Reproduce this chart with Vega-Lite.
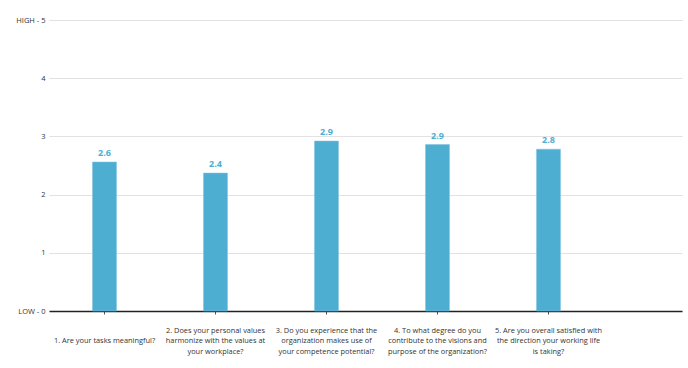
{
  "$schema": "https://vega.github.io/schema/vega-lite/v6.json",
  "autosize": {"type": "none"},
  "width": 633,
  "height": 291,
  "padding": {"left": 49, "top": 20, "right": 6, "bottom": 57},
  "background": "white",
  "config": {"font": "Open Sans", "view": {"stroke": null}},
  "data": {
    "values": [
      {"q": "|1. Are your tasks meaningful?|", "v": 2.56, "lab": "2.6"},
      {"q": "2. Does your personal values|harmonize with the values at|your workplace?", "v": 2.37, "lab": "2.4"},
      {"q": "3. Do you experience that the|organization makes use of|your competence potential?", "v": 2.92, "lab": "2.9"},
      {"q": "4. To what degree do you|contribute to the visions and|purpose of the organization?", "v": 2.86, "lab": "2.9"},
      {"q": "5. Are you overall satisfied with|the direction your working life|is taking?", "v": 2.78, "lab": "2.8"}
    ]
  },
  "encoding": {
    "x": {
      "field": "q", "type": "nominal", "sort": null,
      "scale": {"paddingInner": 0, "paddingOuter": 0.3515, "align": 0},
      "axis": {
        "title": null, "labelAngle": 0,
        "labelExpr": "split(datum.label, '|')",
        "labelFont": "Open Sans", "labelFontSize": 7.4, "labelColor": "#333333",
        "labelLineHeight": 10.5, "labelBaseline": "middle", "labelPadding": 16,
        "labelLimit": 200,
        "domainColor": "#222222", "domainWidth": 1.5,
        "tickColor": "#555555", "tickSize": 3, "tickWidth": 1,
        "grid": false
      }
    },
    "y": {
      "field": "v", "type": "quantitative",
      "scale": {"domain": [0, 5]},
      "axis": {
        "title": null, "values": [0, 1, 2, 3, 4, 5],
        "labelExpr": "datum.value == 5 ? 'HIGH - 5' : datum.value == 0 ? 'LOW - 0' : datum.label",
        "labelFont": "Open Sans", "labelFontSize": 7.5, "labelColor": "#333333",
        "labelPadding": 4, "ticks": false, "domain": false,
        "gridColor": "#e2e2e2", "gridWidth": 1.2
      }
    }
  },
  "layer": [
    {"mark": {"type": "bar", "width": 24, "color": "#4eaed2", "stroke": "#7cc3de", "strokeWidth": 0.5}},
    {"mark": {"type": "text", "baseline": "bottom", "dy": -4, "color": "#4eaed2", "fontWeight": "bold", "fontSize": 9, "font": "Open Sans"},
     "encoding": {"text": {"field": "lab"}}}
  ]
}
